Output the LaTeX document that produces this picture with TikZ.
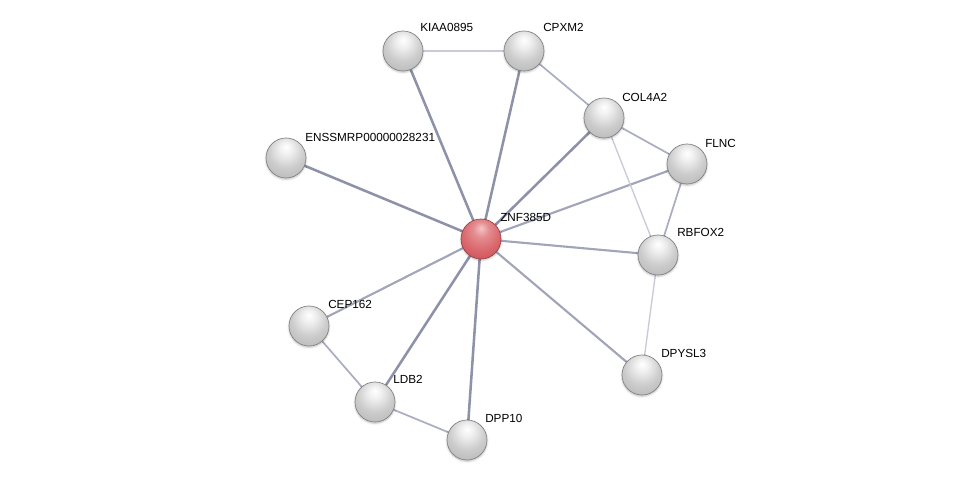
\documentclass[tikz,border=0pt]{standalone}
\usepackage{fontspec}
\setmainfont{Liberation Sans}
\usetikzlibrary{shadows.blur}

\pgfdeclarelayer{bg}
\pgfsetlayers{bg,main}

\definecolor{hubtop}{HTML}{F4C4C6}
\definecolor{hubmid}{HTML}{D9666B}
\definecolor{hubdark}{HTML}{C04E54}
\definecolor{hublow}{HTML}{EE9A9E}

\pgfdeclareradialshading{greyball}{\pgfpoint{0bp}{14bp}}{%
  color(0bp)=(white); color(8bp)=(white!94!black); color(22bp)=(white!80!black);
  color(40bp)=(white!70!black); color(56bp)=(white!86!black); color(64bp)=(white!92!black)}
\pgfdeclareradialshading{redball}{\pgfpoint{0bp}{14bp}}{%
  color(0bp)=(hubtop); color(10bp)=(hubmid!60!hubtop); color(24bp)=(hubmid);
  color(40bp)=(hubdark); color(56bp)=(hublow); color(64bp)=(hublow)}

\definecolor{edgedark}{HTML}{8E92A9}
\definecolor{edgemid}{HTML}{A2A5BA}
\definecolor{edgelight}{HTML}{C8CAD8}

\tikzset{
  ball/.style={circle, minimum size=30pt, inner sep=0pt, draw=white!50!black, line width=0.5pt,
    shade, shading=greyball, blur shadow={shadow xshift=0pt, shadow yshift=-1pt, shadow blur radius=1.5pt, shadow opacity=25}},
  hub/.style={ball, shading=redball, draw=hubdark!80!black},
  lbl/.style={anchor=west, inner sep=0.75pt, font=\fontsize{8.8}{10}\selectfont},
  strong/.style={draw=edgedark, line width=1.9pt},
  medium/.style={draw=edgemid, line width=1.6pt},
  weak/.style={draw=edgemid!90!white, line width=1.3pt},
  faint/.style={draw=edgelight, line width=1pt}
}

\begin{document}
\begin{tikzpicture}[x=0.75pt,y=0.75pt,yscale=-1,xscale=1]
\useasboundingbox (0,0) rectangle (976,485);

% Nodes
\node [hub] (znf) at (481,239) {};
\node [ball] (enss) at (286,158) {};
\node [ball] (kiaa) at (403,51) {};
\node [ball] (cpxm) at (524,51) {};
\node [ball] (col) at (604,118) {};
\node [ball] (flnc) at (687,164) {};
\node [ball] (rbfox) at (658,255) {};
\node [ball] (dpysl) at (642,375) {};
\node [ball] (dpp) at (467,440) {};
\node [ball] (ldb) at (375,402) {};
\node [ball] (cep) at (309,326) {};

% Labels
\draw (499,217) node [lbl] {ZNF385D};
\draw (304,137) node [lbl] {ENSSMRP00000028231};
\draw (419,27) node [lbl] {KIAA0895};
\draw (542,27) node [lbl] {CPXM2};
\draw (621,97) node [lbl] {COL4A2};
\draw (704,143) node [lbl] {FLNC};
\draw (676,232) node [lbl] {RBFOX2};
\draw (660,353) node [lbl] {DPYSL3};
\draw (484,418) node [lbl] {DPP10};
\draw (392,379) node [lbl] {LDB2};
\draw (327,304) node [lbl] {CEP162};

% Edges
\begin{pgfonlayer}{bg}
\draw [strong] (znf.center) -- (kiaa.center);
\draw [strong] (znf.center) -- (cpxm.center);
\draw [strong] (znf.center) -- (col.center);
\draw [strong] (znf.center) -- (enss.center);
\draw [strong] (znf.center) -- (ldb.center);
\draw [strong] (znf.center) -- (dpp.center);
\draw [medium] (znf.center) -- (flnc.center);
\draw [medium] (znf.center) -- (rbfox.center);
\draw [medium] (znf.center) -- (dpysl.center);
\draw [medium] (znf.center) -- (cep.center);
\draw [weak] (cpxm.center) -- (col.center);
\draw [weak] (col.center) -- (flnc.center);
\draw [weak] (flnc.center) -- (rbfox.center);
\draw [weak] (cep.center) -- (ldb.center);
\draw [weak] (ldb.center) -- (dpp.center);
\draw [faint] (kiaa.center) -- (cpxm.center);
\draw [faint] (col.center) -- (rbfox.center);
\draw [faint] (rbfox.center) -- (dpysl.center);
\end{pgfonlayer}

\end{tikzpicture}
\end{document}
